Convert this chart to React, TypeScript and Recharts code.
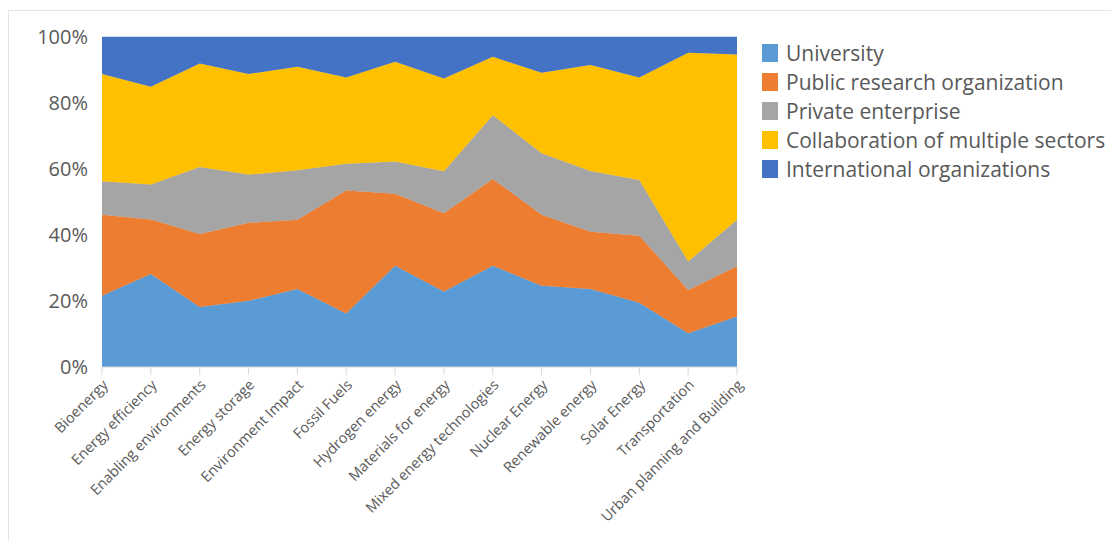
import { AreaChart, Area, XAxis, YAxis } from "recharts";

// Data (shares in %)
const categories = [
  "Bioenergy",
  "Energy efficiency",
  "Enabling environments",
  "Energy storage",
  "Environment Impact",
  "Fossil Fuels",
  "Hydrogen energy",
  "Materials for energy",
  "Mixed energy technologies",
  "Nuclear Energy",
  "Renewable energy",
  "Solar Energy",
  "Transportation",
  "Urban planning and Building",
];

const university = [21.6, 28.2, 18.2, 20.1, 23.6, 16.2, 30.7, 22.9, 30.7, 24.6, 23.6, 19.5, 10.2, 15.3];
const publicResearch = [24.5, 16.5, 22.1, 23.6, 21.0, 37.3, 21.8, 23.7, 26.3, 21.5, 17.4, 20.3, 13.1, 15.2];
const privateEnterprise = [10.2, 10.6, 20.3, 14.6, 15.0, 8.1, 9.8, 12.7, 19.3, 18.7, 18.4, 16.9, 8.7, 14.1];
const collaboration = [32.5, 29.6, 31.4, 30.5, 31.4, 26.1, 30.2, 28.1, 17.7, 24.4, 32.1, 31.0, 63.2, 50.1];
const international = [11.2, 15.1, 8.0, 11.2, 9.0, 12.3, 7.5, 12.6, 6.0, 10.8, 8.5, 12.3, 4.8, 5.3];

const yTicks = [0, 0.2, 0.4, 0.6, 0.8, 1];

const series = [
  { key: "university", name: "University", color: "#5B9BD5" },
  { key: "publicResearch", name: "Public research organization", color: "#ED7D31" },
  { key: "privateEnterprise", name: "Private enterprise", color: "#A5A5A5" },
  { key: "collaboration", name: "Collaboration of multiple sectors", color: "#FFC000" },
  { key: "international", name: "International organizations", color: "#4472C4" },
];

const data = categories.map((name, i) => ({
  name,
  university: university[i],
  publicResearch: publicResearch[i],
  privateEnterprise: privateEnterprise[i],
  collaboration: collaboration[i],
  international: international[i],
}));

const FONT = "'Open Sans', sans-serif";
const TEXT = "#595959";

const CategoryTick = (props: any) => {
  const { x, y, payload } = props;
  return (
    <g transform={`translate(${x + 4},${y + 6})`}>
      <text
        transform="rotate(-45)"
        textAnchor="end"
        fill={TEXT}
        fontSize={14.5}
        fontFamily={FONT}
        dy={4}
      >
        {payload.value}
      </text>
    </g>
  );
};

export default function App() {
  return (
    <div
      style={{
        marginTop: 2,
        width: 1111,
        height: 531,
        borderTop: "1px solid #e3e3e3",
        borderLeft: "1px solid #e3e3e3",
        position: "relative",
        background: "#fff",
      }}
    >
      <AreaChart
        width={744}
        height={520}
        data={data}
        stackOffset="expand"
        margin={{ top: 26, right: 16, left: 0, bottom: 0 }}
      >
        <XAxis
          dataKey="name"
          interval={0}
          axisLine={{ stroke: "#d9d9d9" }}
          tickLine={{ stroke: "#d9d9d9" }}
          tickSize={8}
          height={164}
          tick={<CategoryTick />}
        />
        <YAxis
          width={93}
          domain={[0, 1]}
          ticks={yTicks}
          axisLine={false}
          tickLine={false}
          tickSize={0}
          tickMargin={14}
          tickFormatter={(v: number) => `${Math.round(v * 100)}%`}
          tick={{ fill: TEXT, fontSize: 20, fontFamily: FONT }}
        />
        {series.map((s) => (
          <Area
            key={s.key}
            type="linear"
            dataKey={s.key}
            name={s.name}
            stackId="1"
            stroke={s.color}
            strokeWidth={0.5}
            fill={s.color}
            fillOpacity={1}
            isAnimationActive={false}
          />
        ))}
      </AreaChart>

      {/* Legend */}
      <div style={{ position: "absolute", left: 753, top: 27, fontFamily: FONT }}>
        {series.map((s) => (
          <div key={s.key} style={{ display: "flex", alignItems: "center", height: 29.2 }}>
            <span
              style={{
                display: "inline-block",
                width: 16,
                height: 18,
                background: s.color,
                marginRight: 8,
              }}
            />
            <span style={{ fontSize: 21, color: TEXT, whiteSpace: "nowrap" }}>{s.name}</span>
          </div>
        ))}
      </div>
    </div>
  );
}
